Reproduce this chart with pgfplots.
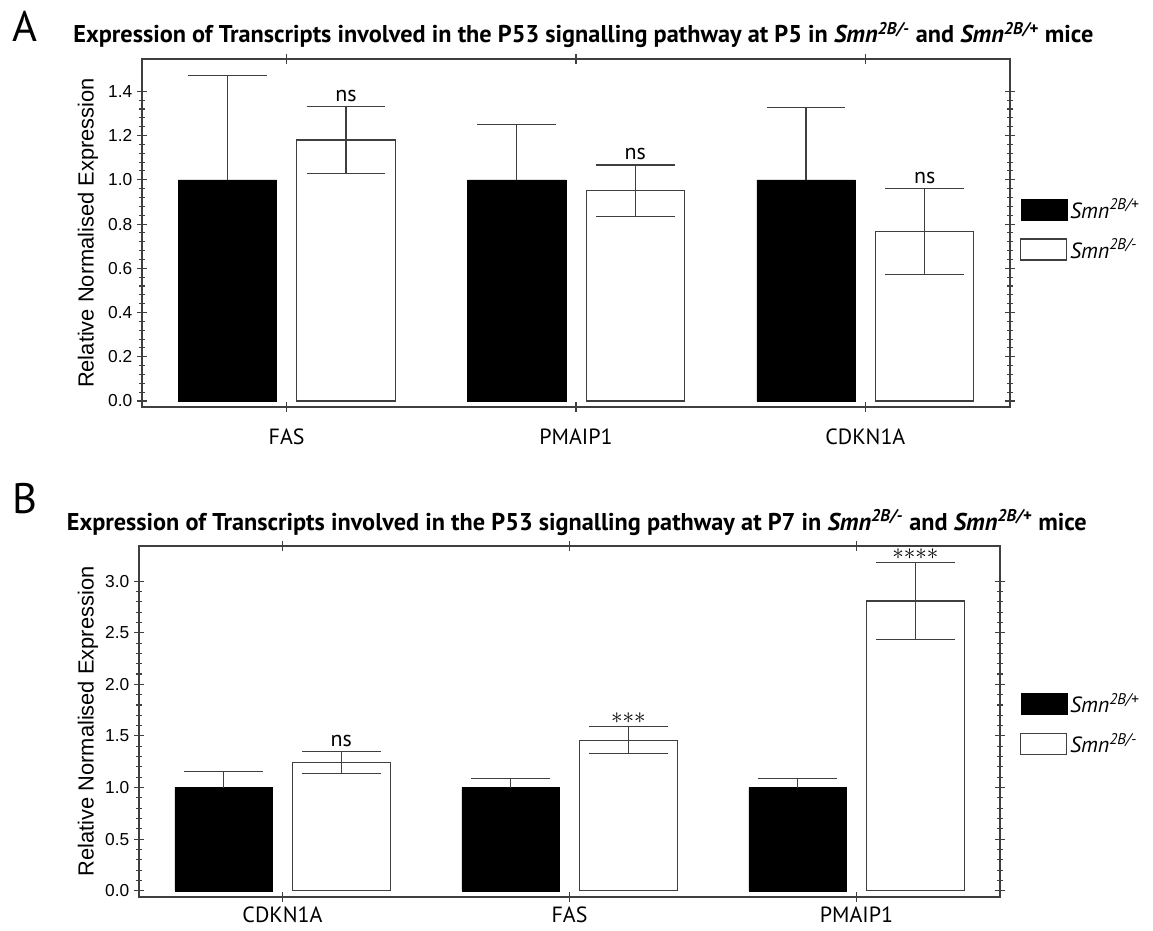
\documentclass[border=0pt]{standalone}
\usepackage{pgfplots}
\pgfplotsset{compat=1.18}
\usepackage{fontspec}
\setmainfont{PT Sans}
\newfontfamily\arialf{Liberation Sans}
\definecolor{axgray}{HTML}{3F3F3F}

\pgfplotsset{
 panel/.style={
  scale only axis,
  anchor=south west,
  ybar,
  xmin=-0.5, xmax=2.5,
  xtick={0,1,2},
  tick align=center,
  major tick length=7.5pt,
  minor tick length=4.5pt,
  tick style={axgray, line width=0.8pt},
  axis line style={axgray, line width=0.9pt},
  minor y tick num=4,
  yticklabel style={font=\arialf\fontsize{13}{13}\selectfont, /pgf/number format/.cd, fixed, fixed zerofill, precision=1, assume math mode=true},
  xticklabel style={font=\fontsize{16.5}{16.5}\selectfont},
  ylabel={Relative Normalised Expression},
  ylabel style={font=\arialf\fontsize{16.4}{16.4}\selectfont, rotate=0, anchor=center},
  title style={font=\bfseries\fontsize{18.2}{18.2}\selectfont, anchor=base, at={(axis description cs:0.5085,1)}, yshift=6pt},
  legend style={draw=none, fill=none, inner sep=0pt, font=\fontsize{16.5}{16.5}\selectfont, row sep=10pt},
  legend cell align=left,
  legend image code/.code={\draw[#1] (0pt,-7.9pt) rectangle (34.5pt,7.9pt);},
 },
 blk/.style={fill=black, draw=black, bar width=0.34, bar shift=-0.205,
   error bars/.cd, y dir=plus, y explicit,
   error bar style={line width=0.85pt, axgray},
   error mark options={rotate=90, mark size=29.5pt, line width=0.85pt, axgray}},
 wht/.style={fill=white, draw=axgray, line width=0.85pt, bar width=0.34, bar shift=0.205,
   error bars/.cd, y dir=both, y explicit,
   error bar style={line width=0.85pt, axgray},
   error mark options={rotate=90, mark size=29.5pt, line width=0.85pt, axgray}},
}

\begin{document}
\begin{tikzpicture}
\path (0,0) rectangle (864.75pt,-698.25pt);
\node[anchor=base west, font=\fontsize{32}{32}\selectfont, inner sep=0pt] at (9pt,-31.5pt) {A};
\node[anchor=base west, font=\fontsize{32}{32}\selectfont, inner sep=0pt] at (9pt,-384.75pt) {B};

\begin{axis}[panel, at={(106.5pt,-305.25pt)}, width=651pt, height=261pt,
  ymin=-0.027, ymax=1.546, ytick={0,0.2,0.4,0.6,0.8,1.0,1.2,1.4},
  xticklabels={FAS,PMAIP1,CDKN1A},
  xticklabel style={yshift=-9pt},
  title={Expression of Transcripts involved in the P53 signalling pathway at P5 in \textit{Smn}\textsuperscript{\textit{2B/-}} and \textit{Smn}\textsuperscript{\textit{2B/+}} mice},
  legend style={at={(axis description cs:1.0115,0.51)}, anchor=west},
  ylabel style={at={(axis description cs:-0.0622,0.5)}}]
\addplot[blk] coordinates {(0,1) +- (0,0.471) (1,1) +- (0,0.249) (2,1) +- (0,0.326)};
\addplot[wht] coordinates {(0,1.18) +- (0,0.15) (1,0.95) +- (0,0.117) (2,0.765) +- (0,0.195)};
\legend{\textit{Smn}\textsuperscript{\textit{2B/+}}, \textit{Smn}\textsuperscript{\textit{2B/-}}}
\node[anchor=base, font=\fontsize{16.5}{16.5}\selectfont, inner sep=0pt, yshift=3.75pt] at (axis cs:0.205,1.33) {ns};
\node[anchor=base, font=\fontsize{16.5}{16.5}\selectfont, inner sep=0pt, yshift=3.75pt] at (axis cs:1.205,1.067) {ns};
\node[anchor=base, font=\fontsize{16.5}{16.5}\selectfont, inner sep=0pt, yshift=3.75pt] at (axis cs:2.205,0.96) {ns};
\end{axis}

\begin{axis}[panel, at={(104.25pt,-672.75pt)}, width=645.75pt, height=263.25pt,
  ymin=-0.06, ymax=3.34, ytick={0,0.5,1.0,1.5,2.0,2.5,3.0},
  xticklabels={CDKN1A,FAS,PMAIP1},
  title={Expression of Transcripts involved in the P53 signalling pathway at P7 in \textit{Smn}\textsuperscript{\textit{2B/-}} and \textit{Smn}\textsuperscript{\textit{2B/+}} mice},
  legend style={at={(axis description cs:1.0232,0.493)}, anchor=west},
  ylabel style={at={(axis description cs:-0.0592,0.5)}}]
\addplot[blk] coordinates {(0,1) +- (0,0.152) (1,1) +- (0,0.087) (2,1) +- (0,0.087)};
\addplot[wht] coordinates {(0,1.243) +- (0,0.103) (1,1.459) +- (0,0.13) (2,2.807) +- (0,0.37)};
\legend{\textit{Smn}\textsuperscript{\textit{2B/+}}, \textit{Smn}\textsuperscript{\textit{2B/-}}}
\node[anchor=base, font=\fontsize{16.5}{16.5}\selectfont, inner sep=0pt, yshift=3.75pt] at (axis cs:0.205,1.346) {ns};
\node[anchor=south, font=\fontsize{19}{19}\selectfont, inner sep=0pt, yshift=2pt] at (axis cs:1.205,1.59) {${\ast}{\ast}{\ast}$};
\node[anchor=south, font=\fontsize{19}{19}\selectfont, inner sep=0pt, yshift=2pt] at (axis cs:2.205,3.178) {${\ast}{\ast}{\ast}{\ast}$};
\end{axis}
\end{tikzpicture}
\end{document}
